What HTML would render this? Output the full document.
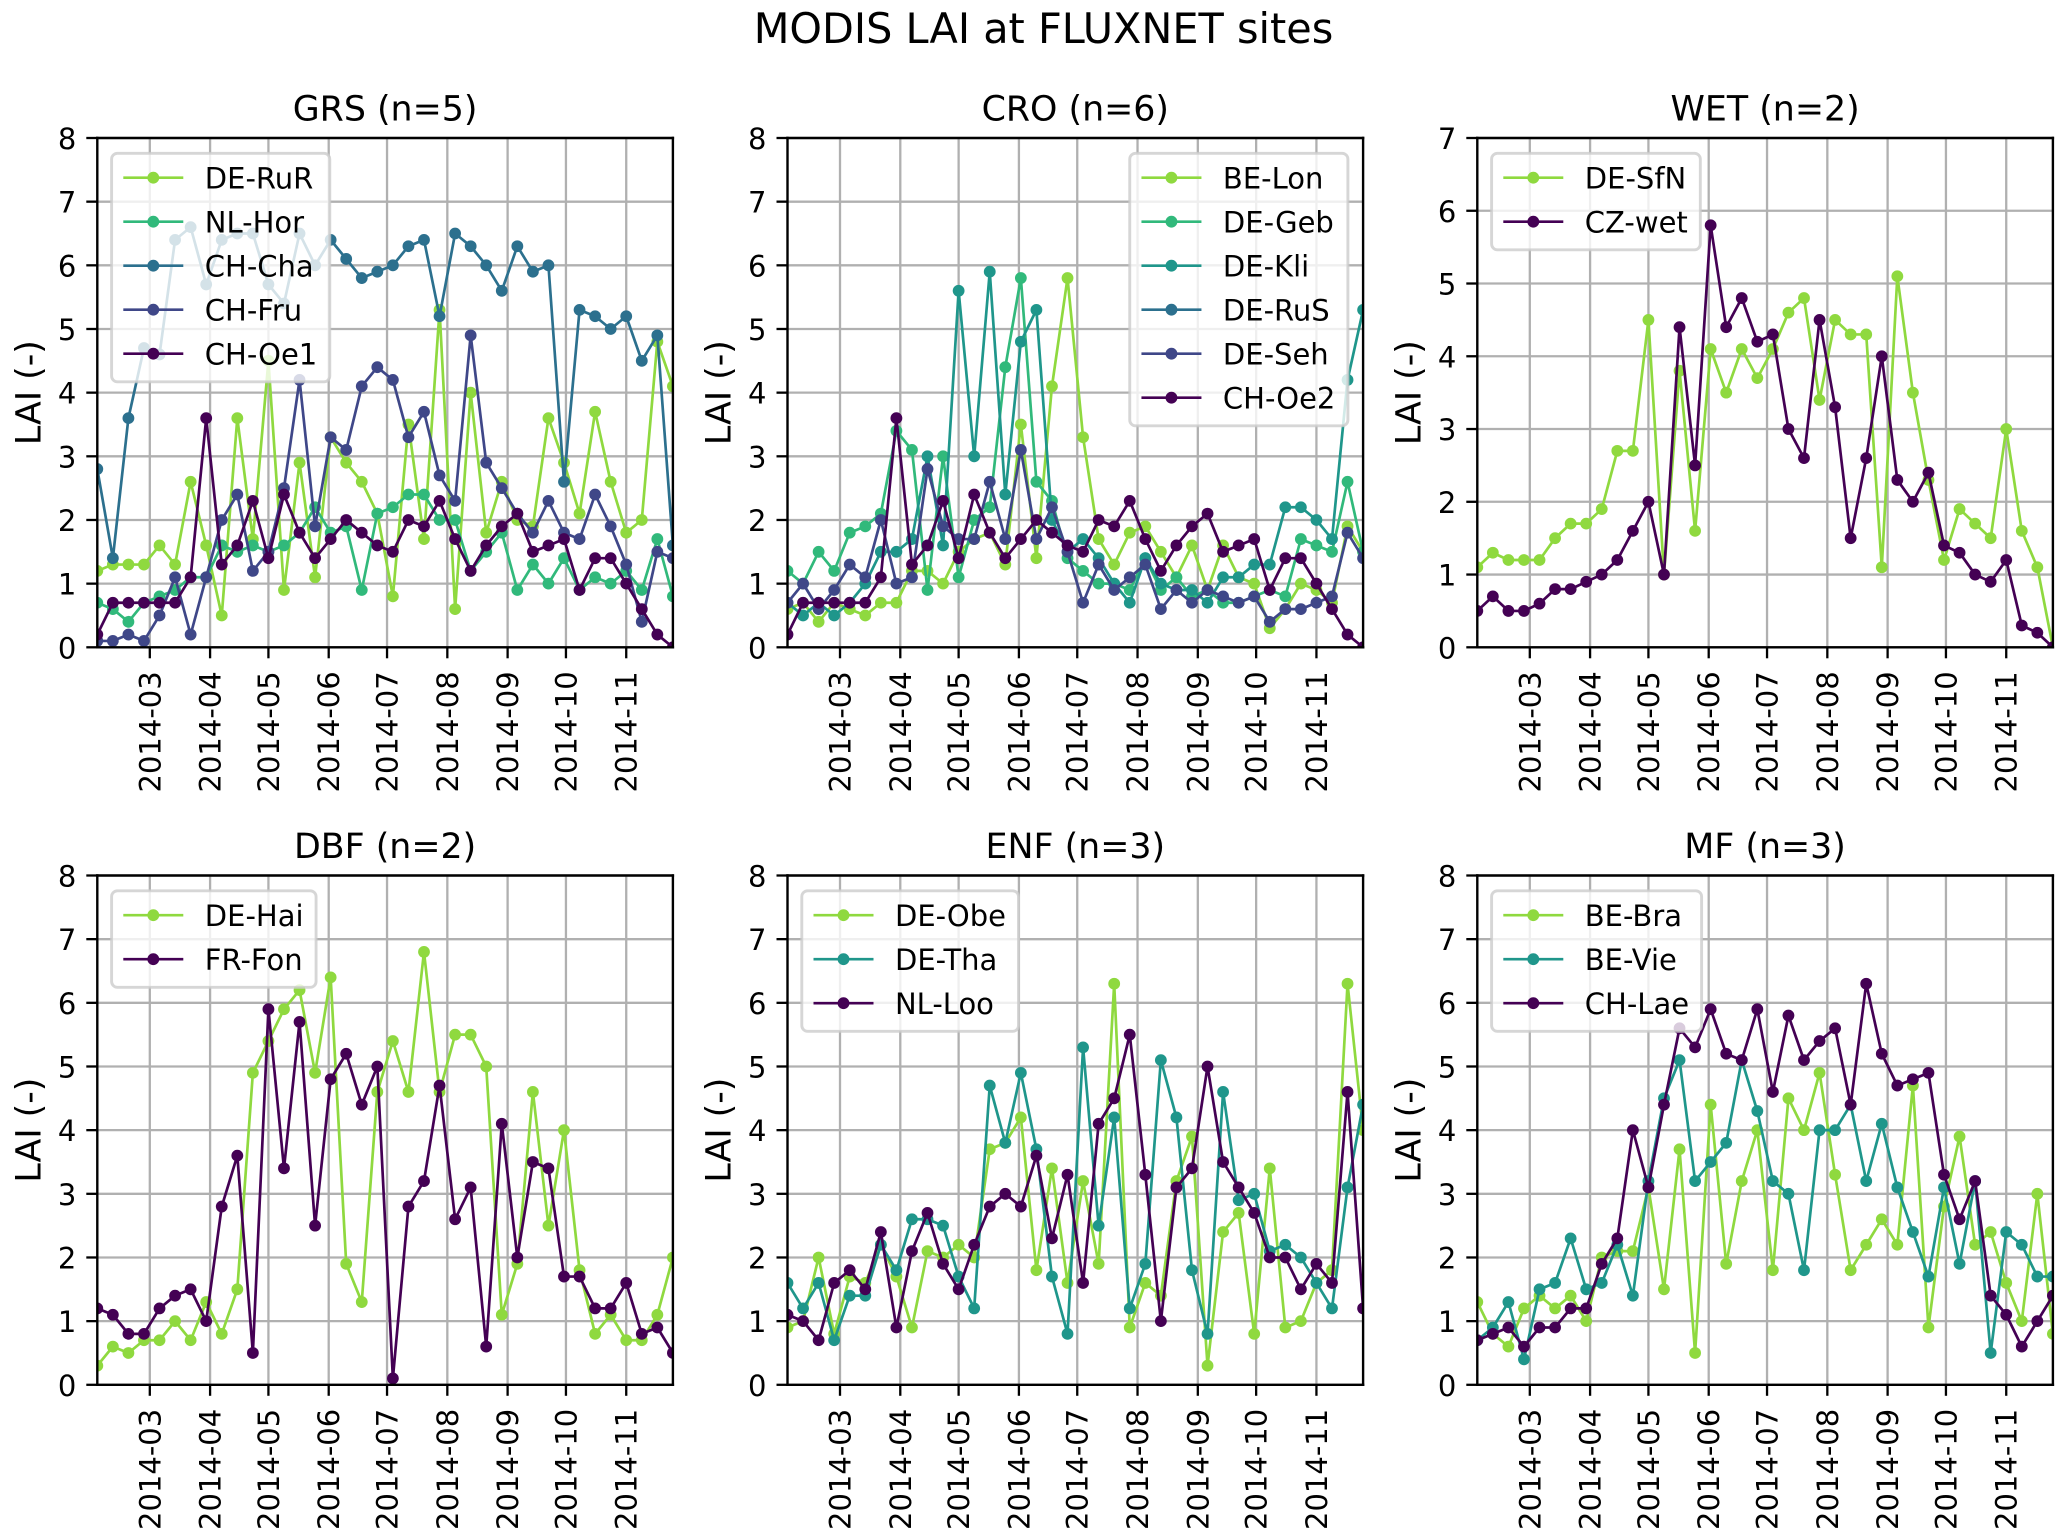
<!DOCTYPE html>
<html lang="en">
<head>
<meta charset="utf-8">
<title>MODIS LAI at FLUXNET sites</title>
<style>
  html, body { margin: 0; padding: 0; background: #fff; }
  svg { display: block; font-family: "DejaVu Sans", "Liberation Sans", sans-serif; }
</style>
</head>
<body>
<svg id="figure" xmlns="http://www.w3.org/2000/svg" width="2067" height="1540" viewBox="0 0 2067 1540">
  <rect x="0" y="0" width="2067" height="1540" fill="#ffffff"></rect>
  <text x="1043.5" y="43" font-size="41.4" text-anchor="middle" fill="#000">MODIS LAI at FLUXNET sites</text>
</svg>
<script>
// Categories: day of year of each 8-day MODIS composite
const compositeDoys = [33,41,49,57,65,73,81,89,97,105,113,121,129,137,145,153,161,169,177,185,193,201,209,217,225,233,241,249,257,265,273,281,289,297,305,313,321,329];

// Axis ticks
const monthTickDoys = [60,91,121,152,182,213,244,274,305];
const monthTickLabels = ['2014-03','2014-04','2014-05','2014-06','2014-07','2014-08','2014-09','2014-10','2014-11'];
const yTicksTo8 = [0,1,2,3,4,5,6,7,8];
const yTicksTo7 = [0,1,2,3,4,5,6,7];

// GRS
const grsDeRuR = [1.2,1.3,1.3,1.3,1.6,1.3,2.6,1.6,0.5,3.6,1.7,4.5,0.9,2.9,1.1,3.3,2.9,2.6,2.1,0.8,3.5,1.7,5.3,0.6,4.0,1.8,2.6,2.0,1.9,3.6,2.9,2.1,3.7,2.6,1.8,2.0,4.8,4.1];
const grsNlHor = [0.7,0.6,0.4,0.7,0.8,0.9,1.1,1.1,1.6,1.5,1.6,1.5,1.6,1.8,2.2,1.8,1.9,0.9,2.1,2.2,2.4,2.4,2.0,2.0,1.2,1.5,1.8,0.9,1.3,1.0,1.4,0.9,1.1,1.0,1.2,0.9,1.7,0.8];
const grsChCha = [2.8,1.4,3.6,4.7,4.6,6.4,6.6,5.7,6.4,6.5,6.5,5.7,5.4,6.5,6.0,6.4,6.1,5.8,5.9,6.0,6.3,6.4,5.2,6.5,6.3,6.0,5.6,6.3,5.9,6.0,2.6,5.3,5.2,5.0,5.2,4.5,4.9,1.6];
const grsChFru = [0.1,0.1,0.2,0.1,0.5,1.1,0.2,1.1,2.0,2.4,1.2,1.5,2.5,4.2,1.9,3.3,3.1,4.1,4.4,4.2,3.3,3.7,2.7,2.3,4.9,2.9,2.5,2.1,1.8,2.3,1.8,1.7,2.4,1.9,1.3,0.4,1.5,1.4];
const grsChOe1 = [0.2,0.7,0.7,0.7,0.7,0.7,1.1,3.6,1.3,1.6,2.3,1.4,2.4,1.8,1.4,1.7,2.0,1.8,1.6,1.5,2.0,1.9,2.3,1.7,1.2,1.6,1.9,2.1,1.5,1.6,1.7,0.9,1.4,1.4,1.0,0.6,0.2,0.0];

// CRO
const croBeLon = [0.6,0.7,0.4,0.7,0.6,0.5,0.7,0.7,1.2,1.2,1.0,1.5,1.7,1.8,1.3,3.5,1.4,4.1,5.8,3.3,1.7,1.3,1.8,1.9,1.5,1.1,1.6,0.9,1.6,1.1,1.0,0.3,0.6,1.0,0.9,0.7,1.9,1.5];
const croDeGeb = [1.2,1.0,1.5,1.2,1.8,1.9,2.1,3.4,3.1,0.9,3.0,1.1,2.0,2.2,4.4,5.8,2.6,2.3,1.4,1.2,1.0,1.0,0.9,1.4,0.9,1.1,0.8,0.9,0.7,0.7,0.8,0.9,0.8,1.7,1.6,1.5,2.6,1.5];
const croDeKli = [0.7,0.5,0.7,0.5,0.7,1.0,1.5,1.5,1.7,3.0,1.6,5.6,3.0,5.9,2.4,4.8,5.3,2.0,1.5,1.7,1.4,1.0,0.7,1.4,1.0,0.9,0.9,0.7,1.1,1.1,1.3,1.3,2.2,2.2,2.0,1.7,4.2,5.3];
const croDeRuS = [];
const croDeSeh = [0.7,1.0,0.6,0.9,1.3,1.1,2.0,1.0,1.1,2.8,1.9,1.7,1.7,2.6,1.7,3.1,1.7,2.2,1.5,0.7,1.3,0.9,1.1,1.3,0.6,0.9,0.7,0.9,0.8,0.7,0.8,0.4,0.6,0.6,0.7,0.8,1.8,1.4];
const croChOe2 = [0.2,0.7,0.7,0.7,0.7,0.7,1.1,3.6,1.3,1.6,2.3,1.4,2.4,1.8,1.4,1.7,2.0,1.8,1.6,1.5,2.0,1.9,2.3,1.7,1.2,1.6,1.9,2.1,1.5,1.6,1.7,0.9,1.4,1.4,1.0,0.6,0.2,0.0];

// WET
const wetDeSfN = [1.1,1.3,1.2,1.2,1.2,1.5,1.7,1.7,1.9,2.7,2.7,4.5,1.0,3.8,1.6,4.1,3.5,4.1,3.7,4.1,4.6,4.8,3.4,4.5,4.3,4.3,1.1,5.1,3.5,2.3,1.2,1.9,1.7,1.5,3.0,1.6,1.1,0.0];
const wetCzWet = [0.5,0.7,0.5,0.5,0.6,0.8,0.8,0.9,1.0,1.2,1.6,2.0,1.0,4.4,2.5,5.8,4.4,4.8,4.2,4.3,3.0,2.6,4.5,3.3,1.5,2.6,4.0,2.3,2.0,2.4,1.4,1.3,1.0,0.9,1.2,0.3,0.2,0.0];

// DBF
const dbfDeHai = [0.3,0.6,0.5,0.7,0.7,1.0,0.7,1.3,0.8,1.5,4.9,5.4,5.9,6.2,4.9,6.4,1.9,1.3,4.6,5.4,4.6,6.8,4.6,5.5,5.5,5.0,1.1,1.9,4.6,2.5,4.0,1.8,0.8,1.1,0.7,0.7,1.1,2.0];
const dbfFrFon = [1.2,1.1,0.8,0.8,1.2,1.4,1.5,1.0,2.8,3.6,0.5,5.9,3.4,5.7,2.5,4.8,5.2,4.4,5.0,0.1,2.8,3.2,4.7,2.6,3.1,0.6,4.1,2.0,3.5,3.4,1.7,1.7,1.2,1.2,1.6,0.8,0.9,0.5];

// ENF
const enfDeObe = [0.9,1.0,2.0,0.8,1.7,1.6,2.2,1.7,0.9,2.1,2.0,2.2,2.0,3.7,3.8,4.2,1.8,3.4,1.6,3.2,1.9,6.3,0.9,1.6,1.4,3.2,3.9,0.3,2.4,2.7,0.8,3.4,0.9,1.0,1.6,1.8,6.3,4.0];
const enfDeTha = [1.6,1.2,1.6,0.7,1.4,1.4,2.2,1.8,2.6,2.6,2.5,1.7,1.2,4.7,3.8,4.9,3.7,1.7,0.8,5.3,2.5,4.2,1.2,1.9,5.1,4.2,1.8,0.8,4.6,2.9,3.0,2.1,2.2,2.0,1.6,1.2,3.1,4.4];
const enfNlLoo = [1.1,1.0,0.7,1.6,1.8,1.5,2.4,0.9,2.1,2.7,1.9,1.5,2.2,2.8,3.0,2.8,3.6,2.3,3.3,1.6,4.1,4.5,5.5,3.3,1.0,3.1,3.4,5.0,3.5,3.1,2.7,2.0,2.0,1.5,1.9,1.6,4.6,1.2];

// MF
const mfBeBra = [1.3,0.8,0.6,1.2,1.4,1.2,1.4,1.0,2.0,2.1,2.1,3.1,1.5,3.7,0.5,4.4,1.9,3.2,4.0,1.8,4.5,4.0,4.9,3.3,1.8,2.2,2.6,2.2,4.7,0.9,2.8,3.9,2.2,2.4,1.6,1.0,3.0,0.8];
const mfBeVie = [0.7,0.9,1.3,0.4,1.5,1.6,2.3,1.5,1.6,2.2,1.4,3.2,4.5,5.1,3.2,3.5,3.8,5.1,4.3,3.2,3.0,1.8,4.0,4.0,4.4,3.2,4.1,3.1,2.4,1.7,3.1,1.9,3.2,0.5,2.4,2.2,1.7,1.7];
const mfChLae = [0.7,0.8,0.9,0.6,0.9,0.9,1.2,1.2,1.9,2.3,4.0,3.1,4.4,5.6,5.3,5.9,5.2,5.1,5.9,4.6,5.8,5.1,5.4,5.6,4.4,6.3,5.2,4.7,4.8,4.9,3.3,2.6,3.2,1.4,1.1,0.6,1.0,1.4];

const LIME = '#8fd93f', GREEN = '#31b97b', TEAL = '#1f968b', STEEL = '#2c708e', INDIGO = '#3f4788', PURPLE = '#440154';

const panels = [
  { key:'grs', title:'GRS (n=5)', yTicks:yTicksTo8, left:97.3, top:138, legendRight:false, series:[
    {name:'DE-RuR', color:LIME, values:grsDeRuR},
    {name:'NL-Hor', color:GREEN, values:grsNlHor},
    {name:'CH-Cha', color:STEEL, values:grsChCha},
    {name:'CH-Fru', color:INDIGO, values:grsChFru},
    {name:'CH-Oe1', color:PURPLE, values:grsChOe1}]},
  { key:'cro', title:'CRO (n=6)', yTicks:yTicksTo8, left:787.5, top:138, legendRight:true, series:[
    {name:'BE-Lon', color:LIME, values:croBeLon},
    {name:'DE-Geb', color:GREEN, values:croDeGeb},
    {name:'DE-Kli', color:TEAL, values:croDeKli},
    {name:'DE-RuS', color:STEEL, values:croDeRuS},
    {name:'DE-Seh', color:INDIGO, values:croDeSeh},
    {name:'CH-Oe2', color:PURPLE, values:croChOe2}]},
  { key:'wet', title:'WET (n=2)', yTicks:yTicksTo7, left:1477.3, top:138, legendRight:false, series:[
    {name:'DE-SfN', color:LIME, values:wetDeSfN},
    {name:'CZ-wet', color:PURPLE, values:wetCzWet}]},
  { key:'dbf', title:'DBF (n=2)', yTicks:yTicksTo8, left:97.3, top:875.5, legendRight:false, series:[
    {name:'DE-Hai', color:LIME, values:dbfDeHai},
    {name:'FR-Fon', color:PURPLE, values:dbfFrFon}]},
  { key:'enf', title:'ENF (n=3)', yTicks:yTicksTo8, left:787.5, top:875.5, legendRight:false, series:[
    {name:'DE-Obe', color:LIME, values:enfDeObe},
    {name:'DE-Tha', color:TEAL, values:enfDeTha},
    {name:'NL-Loo', color:PURPLE, values:enfNlLoo}]},
  { key:'mf', title:'MF (n=3)', yTicks:yTicksTo8, left:1477.3, top:875.5, legendRight:false, series:[
    {name:'BE-Bra', color:LIME, values:mfBeBra},
    {name:'BE-Vie', color:TEAL, values:mfBeVie},
    {name:'CH-Lae', color:PURPLE, values:mfChLae}]}
];

const AX_W = 575.6, AX_H = 509.3;
const NS = 'http://www.w3.org/2000/svg';
const root = document.getElementById('figure');

function make(tag, parent, attrs, text) {
  const n = document.createElementNS(NS, tag);
  for (const k in attrs) n.setAttribute(k, attrs[k]);
  if (text !== undefined) n.textContent = text;
  parent.appendChild(n);
  return n;
}
function slug(s) { return s.toLowerCase().replace(/[^a-z0-9]+/g, '-'); }

panels.forEach(function (p) {
  const L = p.left, T = p.top, R = L + AX_W, B = T + AX_H;
  const doyMin = compositeDoys[0], doyMax = compositeDoys[compositeDoys.length - 1];
  const yMax = p.yTicks[p.yTicks.length - 1];
  const xScale = function (doy) { return L + (doy - doyMin) / (doyMax - doyMin) * AX_W; };
  const yScale = function (v) { return B - v / yMax * AX_H; };

  const g = make('g', root, {});
  
  

  const defs = make('defs', g, {});
  const clip = make('clipPath', defs, { id: 'clip-' + p.key });
  make('rect', clip, { x: L, y: T, width: AX_W, height: AX_H });

  // title
  const title = make('text', g, { x: L + AX_W / 2, y: T - 17.4, 'font-size': 34.8, 'text-anchor': 'middle', fill: '#000' }, p.title);
  
  

  // gridlines and ticks
  monthTickDoys.forEach(function (doy, i) {
    const x = xScale(doy);
    const gl = make('line', g, { x1: x, x2: x, y1: T, y2: B, stroke: '#b0b0b0', 'stroke-width': 2.3 });
    
    
    const tk = make('line', g, { x1: x, x2: x, y1: B, y2: B + 11, stroke: '#000', 'stroke-width': 2.3 });
    
    
    const lb = make('text', g, { transform: 'translate(' + (x + 10.5) + ',' + (B + 24) + ') rotate(-90)', 'font-size': 29, 'text-anchor': 'end', fill: '#000' }, monthTickLabels[i]);
    
    
  });
  p.yTicks.forEach(function (v) {
    const y = yScale(v);
    const gl = make('line', g, { x1: L, x2: R, y1: y, y2: y, stroke: '#b0b0b0', 'stroke-width': 2.3 });
    
    
    const tk = make('line', g, { x1: L - 11, x2: L, y1: y, y2: y, stroke: '#000', 'stroke-width': 2.3 });
    
    
    const lb = make('text', g, { x: L - 21, y: y + 11, 'font-size': 29, 'text-anchor': 'end', fill: '#000' }, String(v));
    
    
  });

  // y axis title
  const yt = make('text', g, { transform: 'translate(' + (L - 56.8) + ',' + (T + AX_H / 2) + ') rotate(-90)', 'font-size': 34.8, 'text-anchor': 'middle', fill: '#000' }, 'LAI (-)');
  
  

  // series
  const plot = make('g', g, { 'clip-path': 'url(#clip-' + p.key + ')' });
  
  
  p.series.forEach(function (s) {
    const sg = make('g', plot, {});
    
    
    let d = '', pen = false;
    s.values.forEach(function (v, i) {
      if (v === null || v === undefined) { pen = false; return; }
      d += (pen ? 'L' : 'M') + xScale(compositeDoys[i]).toFixed(2) + ' ' + yScale(v).toFixed(2);
      pen = true;
    });
    const line = make('path', sg, { d: d, fill: 'none', stroke: s.color, 'stroke-width': 2.7, 'stroke-linejoin': 'round' });
    
    
    s.values.forEach(function (v, i) {
      if (v === null || v === undefined) return;
      const c = make('circle', sg, { cx: xScale(compositeDoys[i]), cy: yScale(v), r: 5.9, fill: s.color });
      
      
    });
  });

  // spines
  [[L, T, R, T, 'top'], [L, B, R, B, 'bottom'], [L, T, L, B, 'left'], [R, T, R, B, 'right']].forEach(function (e) {
    const sp = make('line', g, { x1: e[0], y1: e[1], x2: e[2], y2: e[3], stroke: '#000', 'stroke-width': 2.4, 'stroke-linecap': 'square' });
    
    
  });

  // legend
  const lg = make('g', g, {});
  
  
  const top = T + 15.3;
  const frame = make('rect', lg, { y: top, height: p.series.length * 44 + 8.5, rx: 5.8, ry: 5.8, fill: 'rgba(255,255,255,0.8)', stroke: 'rgba(204,204,204,0.8)', 'stroke-width': 2.9 });
  
  
  const entries = make('g', lg, {});
  let maxLen = 0;
  p.series.forEach(function (s, i) {
    const cy = top + 24.4 + i * 44;
    const row = make('g', entries, {});
    
    
    make('line', row, { x1: 11.7, x2: 71.7, y1: cy, y2: cy, stroke: s.color, 'stroke-width': 2.7 });
    make('circle', row, { cx: 41.7, cy: cy, r: 5.9, fill: s.color });
    const t = make('text', row, { x: 93.2, y: cy + 10.6, 'font-size': 29, fill: '#000' }, s.name);
    maxLen = Math.max(maxLen, t.getComputedTextLength());
  });
  const w = 93.2 + maxLen + 12.5;
  const lx = p.legendRight ? R - 15.2 - w : L + 14.3;
  frame.setAttribute('x', lx);
  frame.setAttribute('width', w);
  entries.setAttribute('transform', 'translate(' + lx + ',0)');
});
</script>
</body>
</html>
